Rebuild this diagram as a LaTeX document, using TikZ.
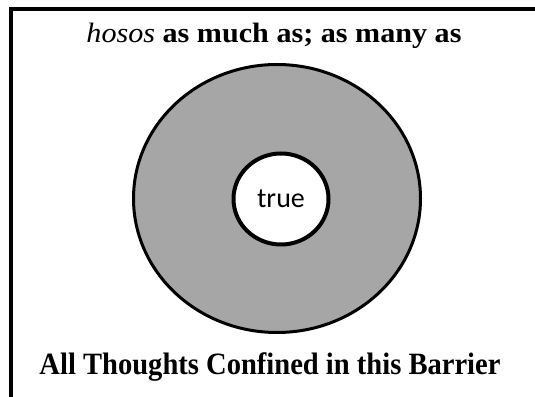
\documentclass[tikz,border=0pt]{standalone}
\usepackage{fontspec}
\usepackage{graphicx}
\setmainfont{Liberation Serif}
\newfontfamily\carl{Carlito}
\usetikzlibrary{shapes.geometric}
\begin{document}
\begin{tikzpicture}[x=1pt,y=1pt,
  frame/.style={line width=4pt},
  outer/.style={ellipse,draw=black,line width=3pt,fill=black!35,minimum width=287pt,minimum height=268pt,inner sep=0pt},
  inner/.style={ellipse,draw=black,line width=4pt,fill=white,minimum width=95pt,minimum height=91pt,inner sep=0pt,font=\carl\fontsize{28}{32}\selectfont},
  caption/.style={inner sep=0pt,anchor=base}]
\useasboundingbox (0,0) rectangle (535,396);
\draw[frame] (11,-5) -- (11,386.5) -- (540,386.5);
\node[outer] (barrier) at (277,197.5) {};
\node[inner] (truth) at (281,197) {true};
\node[caption] (title) at (274,353) {\resizebox{375pt}{\height}{\fontsize{28}{32}\selectfont{\itshape hosos} \bfseries as much as; as many as}};
\node[caption] (bottom) at (270,21) {\resizebox{461pt}{\height}{\fontsize{31}{36}\selectfont\bfseries All Thoughts Confined in this Barrier}};
\end{tikzpicture}
\end{document}
